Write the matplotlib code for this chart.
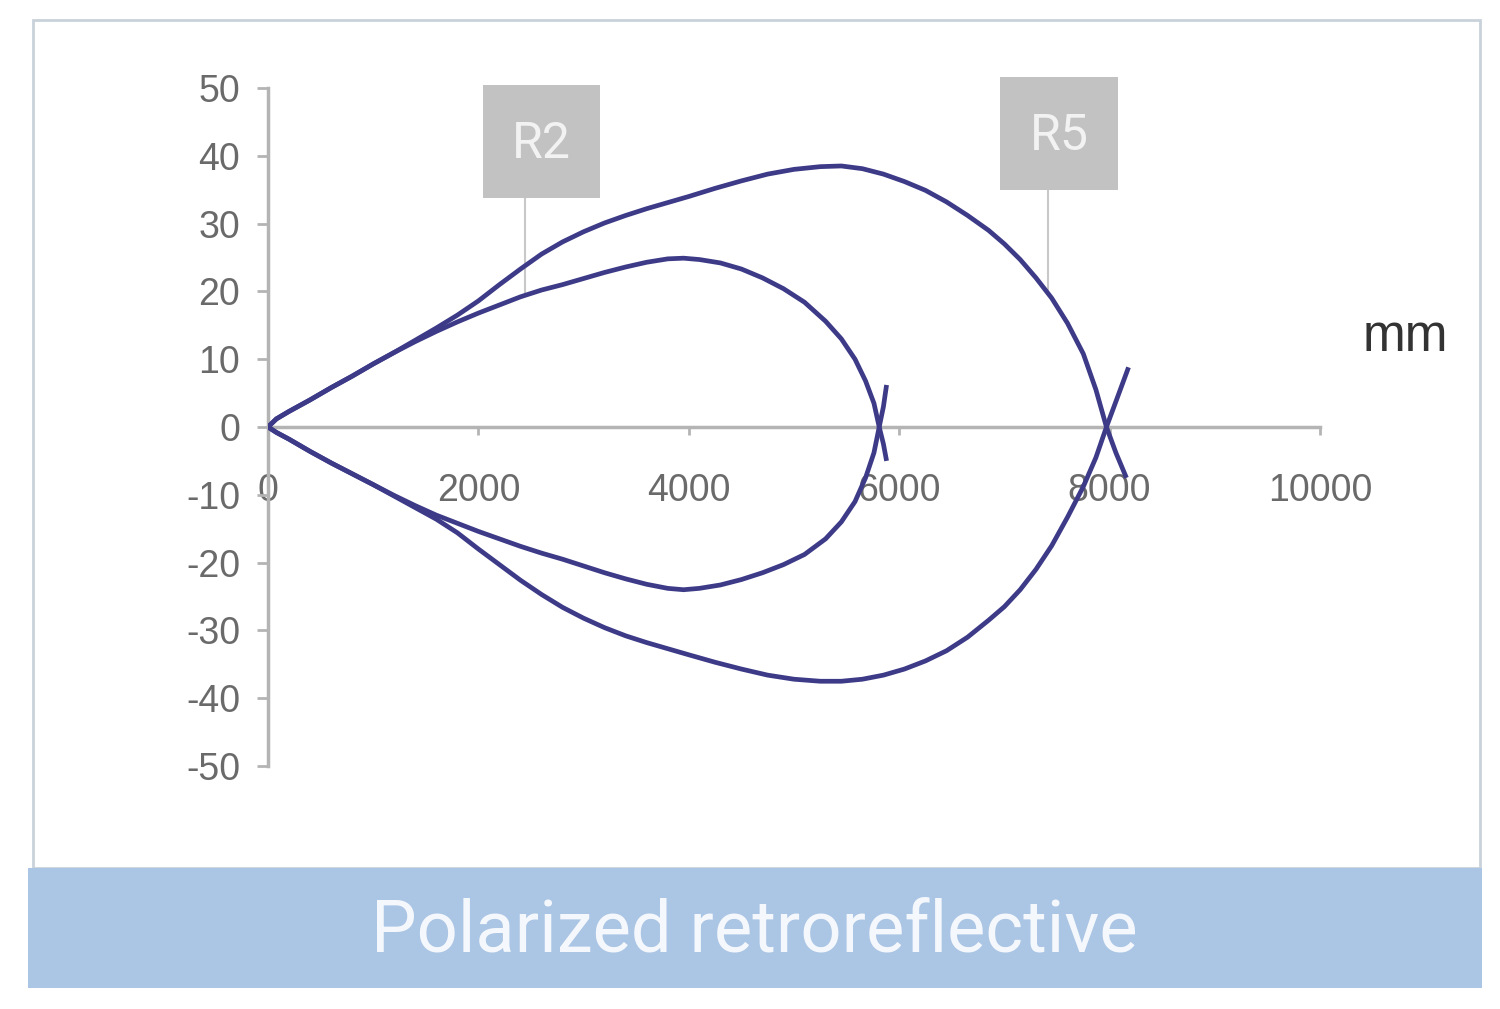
import matplotlib
matplotlib.use("Agg")
import matplotlib.pyplot as plt
from matplotlib.patches import Rectangle

# ---- data ----
r5_upper_x = [0, 80, 200, 400, 600, 800, 1000, 1200, 1400, 1600, 1800, 2000, 2200, 2400, 2600, 2800, 3000, 3200, 3400, 3600, 3800, 4000, 4250, 4500, 4750, 5000, 5250, 5450, 5650, 5850, 6050, 6250, 6450, 6650, 6850, 7000, 7150, 7300, 7450, 7600, 7750, 7870, 7970, 8060, 8160]
r5_upper_y = [0, 1.2, 2.3, 4, 5.8, 7.5, 9.3, 11, 12.8, 14.6, 16.5, 18.6, 21, 23.3, 25.5, 27.3, 28.8, 30.1, 31.2, 32.2, 33.1, 34, 35.2, 36.3, 37.3, 38, 38.4, 38.5, 38.1, 37.3, 36.2, 34.9, 33.2, 31.2, 29, 27, 24.7, 22, 19, 15.3, 10.8, 5.5, 0, -3.8, -7.5]
r5_lower_x = [0, 80, 200, 400, 600, 800, 1000, 1200, 1400, 1600, 1800, 2000, 2200, 2400, 2600, 2800, 3000, 3200, 3400, 3600, 3800, 4000, 4250, 4500, 4750, 5000, 5250, 5450, 5650, 5850, 6050, 6250, 6450, 6650, 6850, 7000, 7150, 7300, 7450, 7600, 7750, 7870, 7970, 8080, 8180]
r5_lower_y = [0, -0.8, -1.8, -3.6, -5.3, -6.9, -8.5, -10.2, -11.9, -13.6, -15.6, -18, -20.3, -22.6, -24.7, -26.6, -28.2, -29.6, -30.8, -31.8, -32.7, -33.6, -34.7, -35.7, -36.6, -37.2, -37.5, -37.5, -37.2, -36.6, -35.7, -34.5, -33, -31, -28.5, -26.5, -24, -21, -17.5, -13.3, -8.8, -4.5, 0, 4.6, 8.8]

r2_upper_x = [0, 80, 200, 400, 600, 800, 1000, 1200, 1400, 1600, 1800, 2000, 2200, 2400, 2600, 2800, 3000, 3200, 3400, 3600, 3800, 3950, 4100, 4300, 4500, 4700, 4900, 5100, 5300, 5450, 5580, 5680, 5760, 5810, 5850, 5880]
r2_upper_y = [0, 1.2, 2.3, 4, 5.8, 7.5, 9.3, 11, 12.6, 14.1, 15.5, 16.8, 18, 19.2, 20.2, 21, 21.9, 22.8, 23.6, 24.3, 24.8, 24.9, 24.7, 24.2, 23.3, 22, 20.4, 18.4, 15.6, 13, 10, 6.8, 3.5, 0, -2.5, -5]
r2_lower_x = [0, 80, 200, 400, 600, 800, 1000, 1200, 1400, 1600, 1800, 2000, 2200, 2400, 2600, 2800, 3000, 3200, 3400, 3600, 3800, 3950, 4100, 4300, 4500, 4700, 4900, 5100, 5300, 5450, 5580, 5680, 5760, 5810, 5850, 5880]
r2_lower_y = [0, -0.8, -1.8, -3.6, -5.3, -6.9, -8.5, -10.1, -11.6, -13, -14.2, -15.4, -16.5, -17.6, -18.6, -19.5, -20.5, -21.5, -22.4, -23.2, -23.8, -24, -23.8, -23.3, -22.5, -21.5, -20.3, -18.8, -16.5, -14, -11, -7.5, -3.8, 0, 3, 6.2]

x_ticks = [0, 2000, 4000, 6000, 8000, 10000]
y_ticks = [50, 40, 30, 20, 10, 0, -10, -20, -30, -40, -50]
labels = ["R2", "R5"]
unit = "mm"
banner_title = "Polarized retroreflective"

curve_color = "#3d3b88"
axis_color = "#b4b4b4"
tick_text = "#6a6a6a"

fig = plt.figure(figsize=(15, 10.09), dpi=100)
fig.patch.set_facecolor("white")

# outer frame and banner
fig.patches.append(Rectangle((33/1500, 1-868/1009), (1480-33)/1500, (868-20)/1009,
                             transform=fig.transFigure, fill=False, edgecolor="#c9d1da", lw=2))
fig.patches.append(Rectangle((28/1500, 1-988/1009), (1482-28)/1500, (988-868)/1009,
                             transform=fig.transFigure, facecolor="#abc5e4", edgecolor="none"))
fig.text(0.503, 1-932/1009, banner_title, ha="center", va="center", color="#f4f8fc",
         fontsize=52, family="Roboto")

ax = fig.add_axes([268/1500, 1-766/1009, (1320-268)/1500, (766-88)/1009])
ax.set_xlim(0, 10000)
ax.set_ylim(-50, 50)

for xs, ys in [(r5_upper_x, r5_upper_y), (r5_lower_x, r5_lower_y),
               (r2_upper_x, r2_upper_y), (r2_lower_x, r2_lower_y)]:
    ax.plot(xs, ys, color=curve_color, lw=3.4, solid_joinstyle="round",
            solid_capstyle="butt", zorder=3)

for s in ["top", "right"]:
    ax.spines[s].set_visible(False)
ax.spines["left"].set_position(("data", 0))
ax.spines["bottom"].set_position(("data", 0))
for s in ["left", "bottom"]:
    ax.spines[s].set_color(axis_color)
    ax.spines[s].set_linewidth(2.5)
    ax.spines[s].set_zorder(2)

ax.set_xticks(x_ticks)
ax.set_yticks(y_ticks)
ax.set_xticklabels([str(v) for v in x_ticks])
ax.set_yticklabels([str(v) for v in y_ticks])
ax.tick_params(axis="x", direction="out", length=6, width=2, color=axis_color,
               pad=27, labelsize=27, labelcolor=tick_text)
ax.tick_params(axis="y", direction="out", length=8, width=2, color=axis_color,
               pad=12, labelsize=27, labelcolor=tick_text)
for t in ax.get_xticklabels() + ax.get_yticklabels():
    t.set_family("Liberation Sans")

# callout boxes
boxes = [
    (labels[0], (2044, 33.8), 1112, 16.6, 2443, 19.5),
    (labels[1], (6958, 35.0), 1122, 16.6, 7414, 20.2),
]
for txt, (bx, by), bw, bh, lx, ly in boxes:
    ax.add_patch(Rectangle((bx, by), bw, bh, facecolor="#c2c2c2", edgecolor="none",
                           clip_on=False, zorder=4))
    ax.text(bx + bw/2, by + bh/2 - 0.4, txt, ha="center", va="center", color="#f2f2f2",
            fontsize=36, family="Roboto", zorder=5, clip_on=False)
    ax.plot([lx, lx], [by, ly], color="#c8c8c8", lw=1.5, zorder=2, clip_on=False)

fig.text(1405/1500, 1-338/1009, unit, ha="center", va="center", color="#333333",
         fontsize=37, family="Liberation Sans")

fig.savefig("out.png", dpi=100)
